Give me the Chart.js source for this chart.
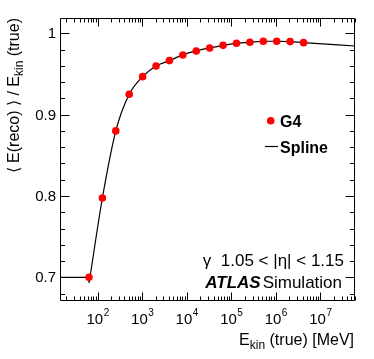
<!DOCTYPE html>
<html>
<head>
<meta charset="utf-8">
<script src="https://cdn.jsdelivr.net/npm/chart.js@4"></script>
<style>
  body { margin: 0; background: #fff; }
  canvas { display: block; }
</style>
</head>
<body>
<canvas id="myChart" width="374" height="359"></canvas>
<script>
// G4 points: kinetic energy [MeV] and mean response
var energies = [64, 128, 256, 512, 1024, 2048, 4096, 8192, 16384, 32768, 65536,
  131072, 262144, 524288, 1048576, 2097152, 4194304];
var response = [0.700, 0.7975, 0.880, 0.925, 0.9467, 0.9598, 0.9664, 0.9734, 0.9783,
  0.982, 0.9852, 0.9877, 0.9889, 0.9902, 0.9902, 0.9898, 0.9885];

// flat part of the spline below the first point (with the small dip)
var flatE = [14.3, 64, 64.6];
var flatR = [0.700, 0.700, 0.6935];

// spline nodes
var splineE = [64.6, 128, 256, 512, 1024, 2048, 4096, 8192, 16384, 32768, 65536,
  131072, 262144, 524288, 1048576, 2097152, 4194304, 6e7];
var splineR = [0.6935, 0.7975, 0.880, 0.925, 0.9467, 0.9598, 0.9664, 0.9734, 0.9783,
  0.982, 0.9852, 0.9877, 0.9889, 0.9902, 0.9902, 0.9898, 0.9885, 0.9844];

var yTicks = [0.7, 0.8, 0.9, 1];
var yTickLabels = ["0.7", "0.8", "0.9", "1"];
var xDecades = [2, 3, 4, 5, 6, 7];

var FONT = "'Liberation Sans', Arial, Helvetica, sans-serif";

function pts(xs, ys) {
  var out = [];
  for (var i = 0; i < xs.length; i++) out.push({ x: xs[i], y: ys[i] });
  return out;
}

// ROOT style frame, inward ticks on all sides, labels and texts
var rootFrame = {
  id: "rootFrame",
  afterDraw: function (chart) {
    var ctx = chart.ctx;
    var a = chart.chartArea;
    var xs = chart.scales.x;
    var ys = chart.scales.y;
    var L = Math.round(a.left) + 0.5, R = Math.round(a.right) - 0.5;
    var T = Math.round(a.top) + 0.5, B = Math.round(a.bottom) - 0.5;
    ctx.save();
    ctx.strokeStyle = "#000";
    ctx.lineWidth = 1;
    ctx.beginPath();
    ctx.rect(L, T, R - L, B - T);
    // x ticks
    for (var e = 1; e <= 7; e++) {
      for (var m = 1; m <= 9; m++) {
        var v = m * Math.pow(10, e);
        if (v < xs.min || v > xs.max) continue;
        var px = Math.round(xs.getPixelForValue(v)) + 0.5;
        var len = m == 1 ? 8 : 4;
        ctx.moveTo(px, B); ctx.lineTo(px, B - len);
        ctx.moveTo(px, T); ctx.lineTo(px, T + len);
      }
    }
    // y ticks every 0.02
    for (var k = 34; k <= 51; k++) {
      var yv = k * 0.02;
      if (yv < ys.min || yv > ys.max) continue;
      var py = Math.round(ys.getPixelForValue(yv)) + 0.5;
      var ylen = k % 5 == 0 ? 9 : 4.5;
      ctx.moveTo(L, py); ctx.lineTo(L + ylen, py);
      ctx.moveTo(R, py); ctx.lineTo(R - ylen, py);
    }
    ctx.stroke();

    ctx.fillStyle = "#000";
    // y tick labels
    ctx.font = "15px " + FONT;
    ctx.textAlign = "right";
    ctx.textBaseline = "middle";
    for (var i = 0; i < yTicks.length; i++) {
      ctx.fillText(yTickLabels[i], a.left - 4, ys.getPixelForValue(yTicks[i]) + 1);
    }
    // x tick labels 10^n
    ctx.textBaseline = "alphabetic";
    ctx.textAlign = "left";
    for (var j = 0; j < xDecades.length; j++) {
      var cx = xs.getPixelForValue(Math.pow(10, xDecades[j]));
      ctx.font = "15px " + FONT;
      var w1 = ctx.measureText("10").width;
      ctx.font = "10px " + FONT;
      var w2 = ctx.measureText(String(xDecades[j])).width;
      var x0 = cx - (w1 + w2) / 2;
      ctx.font = "15px " + FONT;
      ctx.fillText("10", x0, 324);
      ctx.font = "10px " + FONT;
      ctx.fillText(String(xDecades[j]), x0 + w1 + 0.5, 316);
    }
    // x title
    ctx.font = "16px " + FONT;
    var t1 = "E", t3 = " (true) [MeV]";
    var wt1 = ctx.measureText(t1).width, wt3 = ctx.measureText(t3).width;
    ctx.font = "12px " + FONT;
    var wt2 = ctx.measureText("kin").width;
    var xs0 = a.right - 1 - (wt1 + wt2 + wt3);
    ctx.font = "16px " + FONT;
    ctx.fillText(t1, xs0, 345);
    ctx.fillText(t3, xs0 + wt1 + wt2, 345);
    ctx.font = "12px " + FONT;
    ctx.fillText("kin", xs0 + wt1, 349);

    // y title, rotated
    ctx.save();
    ctx.translate(19, a.top);
    ctx.rotate(-Math.PI / 2);
    ctx.font = "16px " + FONT;
    var y1 = "\u27E8 E(reco) \u27E9 / E", y3 = " (true)";
    var wy1 = ctx.measureText(y1).width, wy3 = ctx.measureText(y3).width;
    ctx.font = "12px " + FONT;
    var wy2 = ctx.measureText("kin").width;
    var s0 = -(wy1 + wy2 + wy3);
    ctx.font = "16px " + FONT;
    ctx.fillText(y1, s0, 0);
    ctx.fillText(y3, s0 + wy1 + wy2, 0);
    ctx.font = "12px " + FONT;
    ctx.fillText("kin", s0 + wy1, 4);
    ctx.restore();

    // legend
    ctx.fillStyle = "#ff0000";
    ctx.beginPath();
    ctx.arc(270.7, 120.7, 3.8, 0, Math.PI * 2);
    ctx.fill();
    ctx.strokeStyle = "#000";
    ctx.lineWidth = 1.2;
    ctx.beginPath();
    ctx.moveTo(265, 146.5); ctx.lineTo(278, 146.5);
    ctx.stroke();
    ctx.fillStyle = "#000";
    ctx.font = "bold 16px " + FONT;
    ctx.textAlign = "left";
    ctx.fillText("G4", 280, 127);
    ctx.fillText("Spline", 280, 153);

    // labels
    ctx.font = "17px " + FONT;
    ctx.textAlign = "right";
    ctx.fillText("\u03B3  1.05 < |\u03B7| < 1.15", 344, 266);
    ctx.fillText("Simulation", 342, 288);
    var ws = ctx.measureText("Simulation").width;
    ctx.font = "italic bold 17px " + FONT;
    ctx.fillText("ATLAS", 342 - ws - 2, 288);
    ctx.restore();
  }
};

new Chart("myChart", {
  type: "scatter",
  data: {
    datasets: [
      {
        label: "G4",
        data: pts(energies, response),
        backgroundColor: "#ff0000",
        borderColor: "#ff0000",
        pointRadius: 3.8,
        pointHoverRadius: 3.8,
        borderWidth: 0,
        order: 0,
      },
      {
        label: "Spline",
        data: pts(splineE, splineR),
        showLine: true,
        borderColor: "#000",
        borderWidth: 1.2,
        pointRadius: 0,
        cubicInterpolationMode: "monotone",
        order: 1,
      },
      {
        label: "flat",
        data: pts(flatE, flatR),
        showLine: true,
        borderColor: "#000",
        borderWidth: 1.2,
        pointRadius: 0,
        tension: 0,
        order: 2,
      },
    ],
  },
  options: {
    responsive: false,
    animation: false,
    events: [],
    layout: { padding: { left: 60, right: 19, top: 18, bottom: 58 } },
    plugins: { legend: { display: false }, tooltip: { enabled: false } },
    scales: {
      x: { type: "logarithmic", min: 14.3, max: 6e7, display: false },
      y: { type: "linear", min: 0.6709, max: 1.0188, display: false },
    },
  },
  plugins: [rootFrame],
});
</script>
</body>
</html>
